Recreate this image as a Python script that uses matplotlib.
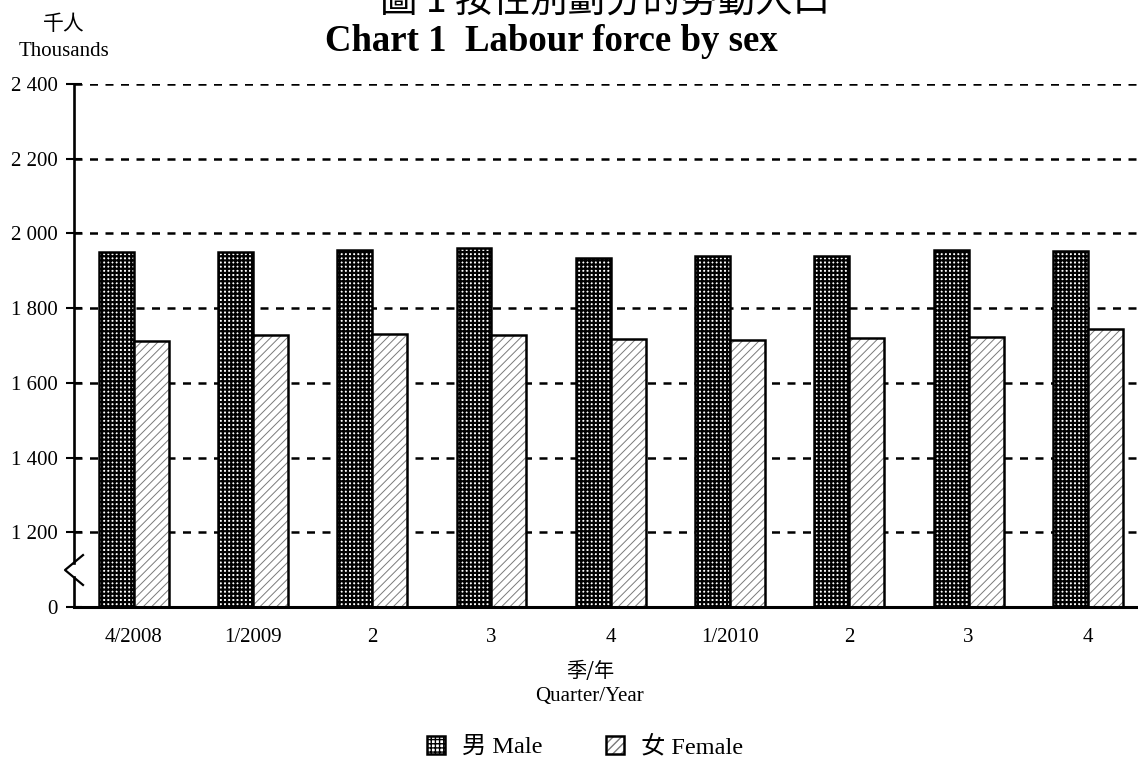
import numpy as np
import matplotlib
matplotlib.use('Agg')
import matplotlib.pyplot as plt

plt.rcParams['font.family'] = ['Liberation Serif', 'Noto Sans CJK TC']
CJK = ['Noto Sans CJK TC', 'Liberation Serif']

# Data (thousands)
quarters = ['4/2008', '1/2009', '2', '3', '4', '1/2010', '2', '3', '4']
male = [1949, 1950, 1956, 1961, 1933, 1939, 1940, 1956, 1954]
female = [1711, 1729, 1730, 1729, 1718, 1716, 1721, 1724, 1744]
y_ticks = [0, 1200, 1400, 1600, 1800, 2000, 2200, 2400]
series_names = ['男 Male', '女 Female']

BREAK = 1000   # axis jumps from 0 straight to 1000
W = 0.293      # bar width (category units)

fig = plt.figure(figsize=(11.38, 7.6), dpi=100)
ax = fig.add_axes([74 / 1138, 153 / 760, 1073.5 / 1138, 523 / 760])

x = np.arange(len(quarters))
m = np.array(male) - BREAK
f = np.array(female) - BREAK
tick_pos = [0 if v == 0 else v - BREAK for v in y_ticks]

# dashed gridlines behind the bars
for p in tick_pos[1:]:
    ax.axhline(p, color='black', lw=1.8, ls=(0, (3.2, 3.0)), zorder=1)

with plt.rc_context({'hatch.linewidth': 1.6}):
    mb = ax.bar(x - W / 2, m, W, facecolor='white', edgecolor='black',
                hatch='++++', lw=1.8, zorder=2)
for b in mb:
    if hasattr(b, 'set_hatch_linewidth'):
        b.set_hatch_linewidth(1.6)

with plt.rc_context({'hatch.linewidth': 0.7}):
    fh = ax.bar(x + W / 2, f, W, facecolor='white', edgecolor='#7a7a7a',
                hatch='////', lw=0, zorder=2)
for b in fh:
    if hasattr(b, 'set_hatch_linewidth'):
        b.set_hatch_linewidth(0.7)
fo = ax.bar(x + W / 2, f, W, fill=False, edgecolor='black', lw=1.8, zorder=3)

ax.set_xlim(-0.5, len(quarters) - 0.5)
ax.set_ylim(0, tick_pos[-1])

for s in ['top', 'right', 'left']:
    ax.spines[s].set_visible(False)
ax.spines['bottom'].set_linewidth(2.2)
ax.spines['bottom'].set_zorder(4)

# left axis with break mark
yt = ax.get_yaxis_transform()
ax.plot([0, 0], [0, 79], color='black', lw=1.9, transform=yt, clip_on=False, zorder=4)
ax.plot([0, 0], [119, tick_pos[-1]], color='black', lw=1.9, transform=yt, clip_on=False, zorder=4)
dx = 9 / 1073.5
ax.plot([dx, -dx, dx], [139, 99, 59], color='black', lw=1.6, transform=yt,
        clip_on=False, zorder=4)

ax.set_yticks(tick_pos, [f'{v:,}'.replace(',', ' ') for v in y_ticks])
ax.tick_params(axis='y', direction='inout', length=11, width=1.5,
               labelsize=15, pad=6)
ax.set_xticks(x, quarters)
ax.tick_params(axis='x', length=0, pad=15, labelsize=15)

# axis titles
fig.text(590 / 1138, 1 - 671 / 760, '季/年', ha='center', va='center',
         fontsize=14.5, family=CJK)
fig.text(590 / 1138, 1 - 697 / 760, 'Quarter/Year', ha='center', va='center',
         fontsize=15)
fig.text(64 / 1138, 1 - 24 / 760, '千人', ha='center', va='center',
         fontsize=15, family=CJK)
fig.text(64 / 1138, 1 - 52 / 760, 'Thousands', ha='center', va='center',
         fontsize=15)

# titles (Chinese one is cut by the top edge)
fig.text(605 / 1138, 1 - 13 / 760, '圖 1 按性別劃分的勞動人口', ha='center',
         va='baseline', fontsize=27, family=CJK)
fig.text(551 / 1138, 1 - 51 / 760, 'Chart 1  Labour force by sex', ha='center',
         va='baseline', fontsize=26.5, fontweight='bold')

fig.legend(handles=[mb, (fh, fo)], labels=series_names, ncol=2, loc='center',
           bbox_to_anchor=(585 / 1138, 1 - 747 / 760), frameon=False,
           fontsize=17.5, handlelength=0.75, handleheight=0.75,
           handletextpad=0.7, columnspacing=2.6)

fig.savefig('out.png', dpi=100)
